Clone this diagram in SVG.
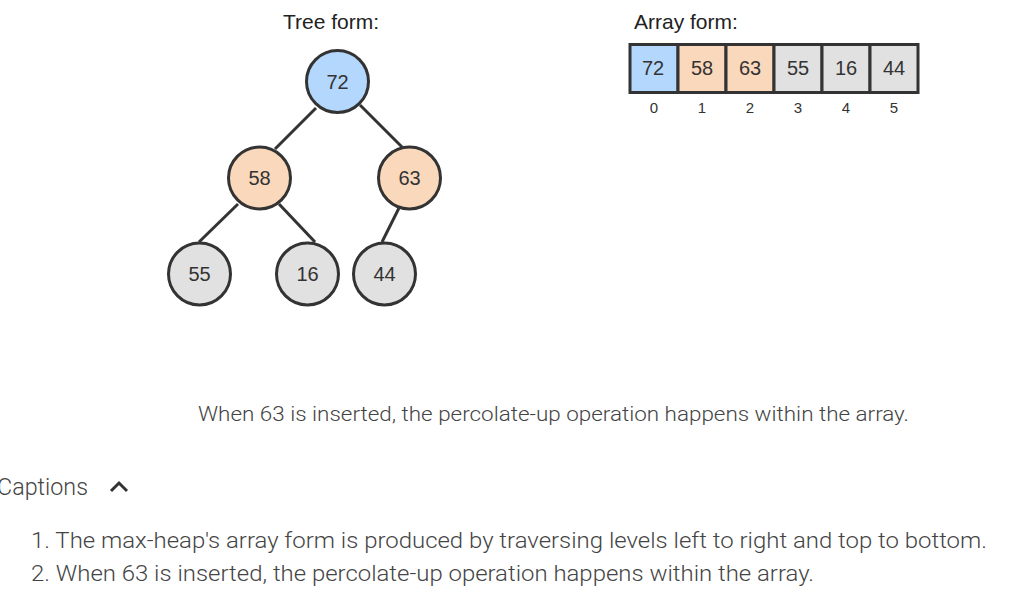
<svg xmlns="http://www.w3.org/2000/svg" width="1021" height="603" viewBox="0 0 1021 603">
<style>
.node circle{stroke:#333;stroke-width:3}
.blue{fill:#b3d7fd}
.orange{fill:#fad8bc}
.grey{fill:#e1e1e1}
.lbl{font-family:"Liberation Sans",Arial,sans-serif;font-size:20px;fill:#333;text-anchor:middle}
.title{font-family:"Liberation Sans",Arial,sans-serif;font-size:21px;fill:#222}
.idx{font-family:"Liberation Sans",Arial,sans-serif;font-size:15px;fill:#333;text-anchor:middle}
.cell rect{stroke:#333;stroke-width:3}
.edges line{stroke:#333;stroke-width:3}
.cap{font-family:Roboto,"Liberation Sans",sans-serif;font-weight:300;fill:#444}
</style>
<rect width="1021" height="603" fill="#fff"/>
<text class="title" x="331" y="29" text-anchor="middle">Tree form:</text>
<text class="title" x="634" y="29">Array form:</text>
<g class="edges" id="connectors">
<line x1="316" y1="108" x2="275" y2="149"/>
<line x1="360" y1="105" x2="402" y2="147"/>
<line x1="238" y1="204" x2="199" y2="242"/>
<line x1="279" y1="204" x2="315" y2="242"/>
<line x1="399" y1="208" x2="382" y2="242"/>
</g>
<g class="node" id="n72"><circle class="blue" cx="337.5" cy="81.5" r="31"/><text class="lbl" x="337.5" y="88.5">72</text></g>
<g class="node" id="n58"><circle class="orange" cx="259.5" cy="178" r="31"/><text class="lbl" x="259.5" y="185">58</text></g>
<g class="node" id="n63"><circle class="orange" cx="409.5" cy="178" r="31"/><text class="lbl" x="409.5" y="185">63</text></g>
<g class="node" id="n55"><circle class="grey" cx="199.5" cy="274" r="31"/><text class="lbl" x="199.5" y="281">55</text></g>
<g class="node" id="n16"><circle class="grey" cx="307.5" cy="274" r="31"/><text class="lbl" x="307.5" y="281">16</text></g>
<g class="node" id="n44"><circle class="grey" cx="384.5" cy="274" r="31"/><text class="lbl" x="384.5" y="281">44</text></g>
<g id="array">
<g class="cell" id="a0"><rect class="blue" x="630" y="44.5" width="48" height="48"/><text class="lbl" x="653" y="74.5">72</text></g>
<g class="cell" id="a1"><rect class="orange" x="678" y="44.5" width="48" height="48"/><text class="lbl" x="702" y="74.5">58</text></g>
<g class="cell" id="a2"><rect class="orange" x="726" y="44.5" width="48" height="48"/><text class="lbl" x="750" y="74.5">63</text></g>
<g class="cell" id="a3"><rect class="grey" x="774" y="44.5" width="48" height="48"/><text class="lbl" x="798" y="74.5">55</text></g>
<g class="cell" id="a4"><rect class="grey" x="822" y="44.5" width="48" height="48"/><text class="lbl" x="846" y="74.5">16</text></g>
<g class="cell" id="a5"><rect class="grey" x="870" y="44.5" width="48" height="48"/><text class="lbl" x="894" y="74.5">44</text></g>
<text class="idx" x="654" y="113">0</text>
<text class="idx" x="702" y="113">1</text>
<text class="idx" x="750" y="113">2</text>
<text class="idx" x="798" y="113">3</text>
<text class="idx" x="846" y="113">4</text>
<text class="idx" x="894" y="113">5</text>
</g>
<text class="cap" x="198" y="421" font-size="21" textLength="711" lengthAdjust="spacingAndGlyphs">When 63 is inserted, the percolate-up operation happens within the array.</text>
<text class="cap" x="-3" y="495" font-size="23" textLength="91" lengthAdjust="spacingAndGlyphs">Captions</text>
<path d="M111 491 L119 483 L127 491" fill="none" stroke="#333" stroke-width="3"/>
<text class="cap" x="31" y="548" font-size="22" textLength="956" lengthAdjust="spacingAndGlyphs">1. The max-heap's array form is produced by traversing levels left to right and top to bottom.</text>
<text class="cap" x="31" y="581" font-size="22" textLength="783" lengthAdjust="spacingAndGlyphs">2. When 63 is inserted, the percolate-up operation happens within the array.</text>
</svg>
